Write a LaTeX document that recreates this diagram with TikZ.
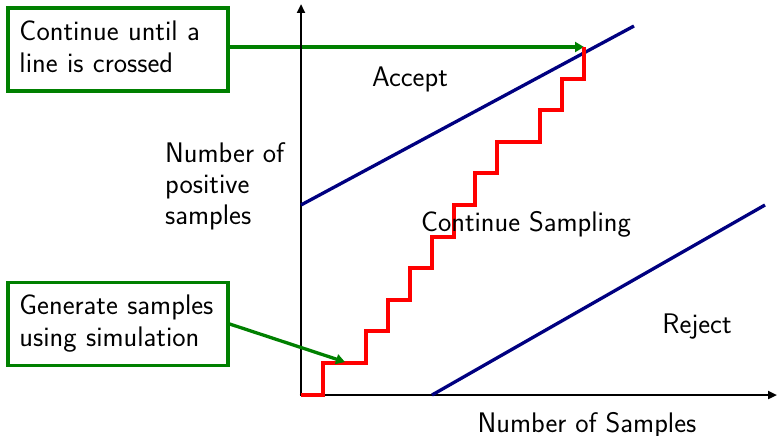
\documentclass[tikz,border=0pt]{standalone}
\usetikzlibrary{arrows.meta}
\definecolor{boxgreen}{RGB}{0,128,0}
\definecolor{navyline}{RGB}{0,0,128}
\begin{document}
\begin{tikzpicture}[x=1pt,y=-1pt,
  font=\sffamily\fontsize{28.3}{31}\selectfont,
  gbox/.style={draw=boxgreen, line width=3.3pt, align=left, text width=197pt,
    inner xsep=11.5pt, minimum height=83pt, font=\sffamily\fontsize{28.3}{32}\selectfont},
  garrow/.style={draw=boxgreen, line width=3.3pt, -{Triangle[length=9pt,width=10pt]}},
  axis/.style={draw=black, line width=2.8pt, -{Triangle[length=9pt,width=8pt]}},
  bound/.style={draw=navyline, line width=3.3pt},
  walk/.style={draw=red, line width=3.3pt},
  lbl/.style={inner sep=0pt}]
\useasboundingbox (0,0) rectangle (777,436);

% coordinates
\coordinate (O) at (301,395);
\coordinate (ytop) at (301,4);
\coordinate (xend) at (777,395);
\coordinate (ua) at (301,205);
\coordinate (ub) at (634,26);
\coordinate (la) at (432,395);
\coordinate (lb) at (765,205);
\coordinate (tipA) at (584,47);
\coordinate (tipB) at (345,362);

% boxes
\node[gbox] (box1) at (118,49.5) {Continue until a\\line is crossed\vphantom{g}};
\node[gbox] (box2) at (118,324) {Generate samples\\using simulation};

% green arrows
\draw[garrow] (box1.east |- tipA) -- (tipA);

% axes
\draw[axis] (O) -- (ytop);
\draw[axis] ([xshift=-1.4pt]O) -- (xend);

% boundaries
\draw[bound] (ua) -- (ub);
\draw[bound] (la) -- (lb);

% random walk
\draw[walk] (O) -- (323,395) -- (323,363) -- (366,363) -- (366,331) -- (388,331)
  -- (388,300) -- (410,300) -- (410,268) -- (432,268) -- (432,237) -- (454,237)
  -- (454,205) -- (475,205) -- (475,173) -- (497,173) -- (497,142) -- (540,142)
  -- (540,110) -- (562,110) -- (562,79) -- (584,79) -- (tipA);

\draw[garrow] (box2.east) -- (tipB);

% labels
\node[lbl, anchor=base] (acc) at (410,87) {Accept};
\node[lbl, anchor=base] (cont) at (526,231) {Continue Sampling};
\node[lbl, anchor=base] (rej) at (697,333) {Reject};
\node[lbl, anchor=base] (xlab) at (587,432) {Number of Samples};
\node[lbl, anchor=north west, align=left] (ylab) at (165,142) {Number of\\positive\\samples};
\end{tikzpicture}
\end{document}
